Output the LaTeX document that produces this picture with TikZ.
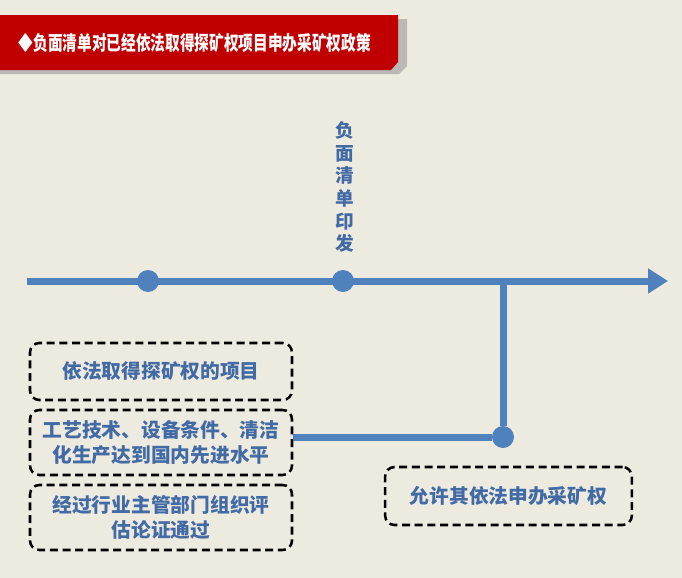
\documentclass[tikz,border=0pt]{standalone}
\usepackage{fontspec}
\usetikzlibrary{arrows.meta}
\newfontfamily\cjk{Noto Sans CJK SC}
\definecolor{bgcol}{RGB}{237,234,224}
\definecolor{barred}{RGB}{192,0,0}
\definecolor{lineblue}{RGB}{79,129,189}
\definecolor{txtblue}{RGB}{66,106,165}
\tikzset{
  dashbox/.style={draw=black,line width=1.9pt,dash pattern=on 6pt off 3.5pt,rounded corners=7pt,
    minimum width=196.5pt,align=center,text=txtblue,font=\cjk\bfseries\fontsize{14.8pt}{19pt}\selectfont},
  tline/.style={draw=lineblue,line width=5.25pt},
  tdot/.style={circle,fill=lineblue,minimum size=16.5pt,inner sep=0pt}
}
\begin{document}
\begin{tikzpicture}[x=0.75pt,y=-0.75pt]
\useasboundingbox (0,0) rectangle (682,578);
\fill[bgcol] (0,0) rectangle (682,578);
% title bar
\fill[black!40,opacity=.6] (0,19)--(407,19)--(407,66)--(399,74)--(0,74)--cycle;
\fill[barred] (0,15)--(398,15)--(398,62)--(391,70)--(0,70)--cycle;
\node[anchor=west,text=white,yscale=1.35,font=\cjk\bfseries\fontsize{11pt}{13pt}\selectfont] (title) at (14,43){◆负面清单对已经依法取得探矿权项目申办采矿权政策};
% time line
\coordinate (t0) at (27,281);\coordinate (t1) at (668,281);
\draw[tline,-{Triangle[length=15pt,width=18pt]}] (t0)--(t1);
\node[tdot] (d1) at (148,281){};\node[tdot] (d2) at (343,281){};
\node[text=txtblue,align=center,font=\cjk\bfseries\fontsize{14pt}{17pt}\selectfont] (issue) at (345,187){负\\面\\清\\单\\印\\发};
% conditions
\node[dashbox,minimum height=42.75pt] (b1) at (161,371.5){依法取得探矿权的项目};
\node[dashbox,minimum height=48.75pt] (b2) at (161,442.5){工艺技术、设备条件、清洁\\化生产达到国内先进水平};
\node[dashbox,minimum height=48.75pt] (b3) at (161,517.5){经过行业主管部门组织评\\估论证通过};
\node[tdot] (d3) at (503,437){};
\draw[tline] (d3)--(d3 |- t0);
\draw[tline] (d3)--(d3 -| b2.east);
\node[dashbox,minimum width=185pt,minimum height=43.5pt] (b4) at (508.5,496){允许其依法申办采矿权};
\end{tikzpicture}
\end{document}
